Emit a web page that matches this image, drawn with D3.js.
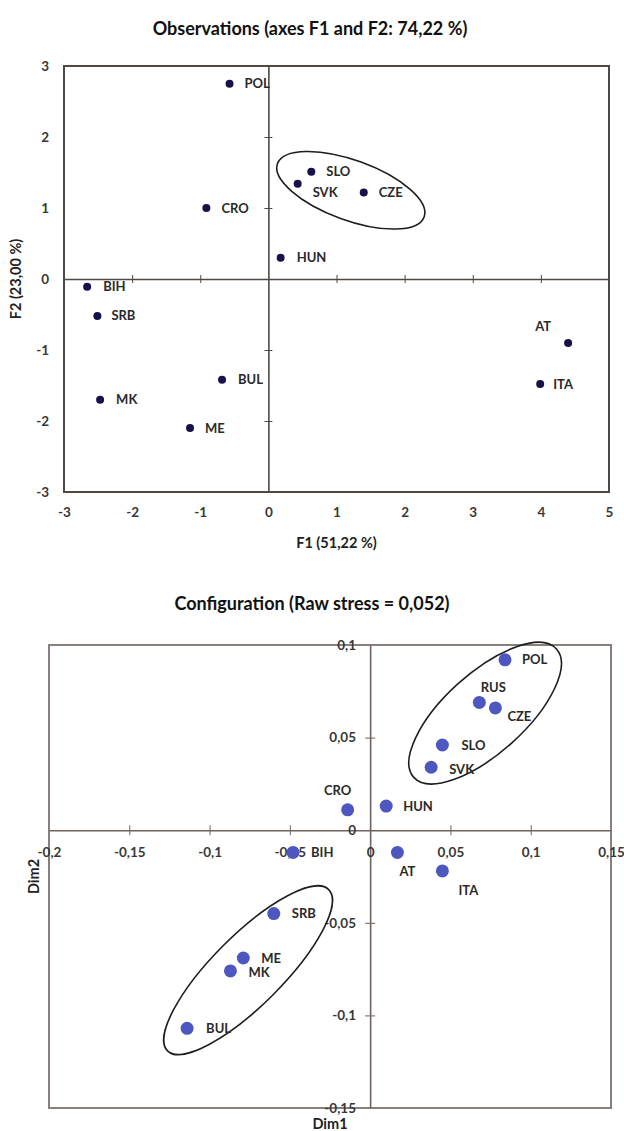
<!DOCTYPE html>
<html>
<head>
<meta charset="utf-8">
<script src="https://cdn.jsdelivr.net/npm/d3@7/dist/d3.min.js"></script>
<style>
  html, body { margin: 0; padding: 0; background: #ffffff; }
  svg { display: block; }
  text { font-family: Lato, "Open Sans", "DejaVu Sans", sans-serif; }
</style>
</head>
<body>
<svg id="chart" width="624" height="1131"></svg>
<script>
// ---------- DATA ----------
// PCA observations (F1, F2)
const obsNames = ["POL", "CRO", "SLO", "SVK", "CZE", "HUN", "BIH", "SRB", "MK", "ME", "BUL", "AT", "ITA"];
const obsF1 = [-0.57, -0.91, 0.63, 0.43, 1.40, 0.18, -2.66, -2.51, -2.47, -1.15, -0.68, 4.40, 3.99];
const obsF2 = [2.75, 1.00, 1.51, 1.34, 1.22, 0.30, -0.11, -0.52, -1.70, -2.10, -1.42, -0.90, -1.48];
const obsXTicks = [-3, -2, -1, 0, 1, 2, 3, 4, 5];
const obsYTicks = [-3, -2, -1, 0, 1, 2, 3];

// MDS configuration (Dim1, Dim2)
const cfgNames = ["POL", "RUS", "CZE", "SLO", "SVK", "CRO", "HUN", "BIH", "AT", "ITA", "SRB", "ME", "MK", "BUL"];
const cfgDim1 = [0.084, 0.068, 0.078, 0.045, 0.038, -0.014, 0.010, -0.048, 0.017, 0.045, -0.060, -0.079, -0.087, -0.114];
const cfgDim2 = [0.092, 0.069, 0.066, 0.046, 0.034, 0.011, 0.013, -0.012, -0.012, -0.022, -0.045, -0.069, -0.076, -0.107];
const cfgXTicks = [-0.2, -0.15, -0.1, -0.05, 0, 0.05, 0.1, 0.15];
const cfgYTicks = [-0.15, -0.1, -0.05, 0, 0.05, 0.1];

// ---------- LAYOUT / STYLE ----------
const svg = d3.select("#chart");
const fmt = v => String(+v.toFixed(2)).replace(".", ",");

// label placement (pixel offsets from the marker)
const obsLabelPos = {
  POL:[15,0,"start"], CRO:[15,0,"start"], SLO:[15,0,"start"], SVK:[15,9,"start"],
  CZE:[15,0,"start"], HUN:[16,0,"start"], BIH:[16,0,"start"], SRB:[14,0,"start"],
  MK:[16,0,"start"], ME:[15,0,"start"], BUL:[16,0,"start"], AT:[-25,-16,"middle"],
  ITA:[13,0,"start"]
};
const cfgLabelPos = {
  POL:[17,0,"start"], RUS:[14,-15,"middle"], CZE:[12,8,"start"], SLO:[19,0,"start"],
  SVK:[18,2,"start"], CRO:[-10,-19,"middle"], HUN:[17,0,"start"], BIH:[18,0,"start"],
  AT:[10,19,"middle"], ITA:[26,20,"middle"], SRB:[18,0,"start"], ME:[18,0,"start"],
  MK:[18,1,"start"], BUL:[19,0,"start"]
};

function drawPanel(o) {
  const g = svg.append("g");
  const x = d3.scaleLinear().domain(o.xDomain).range([o.left, o.right]);
  const y = d3.scaleLinear().domain(o.yDomain).range([o.bottom, o.top]);

  // title
  g.append("text").attr("x", o.titleX).attr("y", o.titleY)
    .attr("text-anchor", "middle").attr("font-size", o.titleSize).attr("font-weight", 700)
    .attr("fill", "#111").text(o.title);

  // frame
  g.append("rect").attr("x", o.left).attr("y", o.top)
    .attr("width", o.right - o.left).attr("height", o.bottom - o.top)
    .attr("fill", "none").attr("stroke", o.frameColor).attr("stroke-width", o.frameWidth);

  // zero axes with crossing ticks
  const tk = o.tick;
  const xAx = g.append("g").attr("transform", `translate(0,${y(0)})`)
    .call(d3.axisBottom(x).tickValues(o.xTicks).tickSize(0).tickFormat(""));
  xAx.select(".domain").attr("stroke", o.axisColor).attr("stroke-width", o.axisWidth);
  xAx.selectAll(".tick line").attr("y1", -tk).attr("y2", tk).attr("stroke", o.axisColor).attr("stroke-width", 1);
  xAx.selectAll(".tick").filter(d => d === o.xDomain[0] || d === o.xDomain[1] || d === 0).select("line").remove();

  const yAx = g.append("g").attr("transform", `translate(${x(0)},0)`)
    .call(d3.axisLeft(y).tickValues(o.yTicks).tickSize(0).tickFormat(""));
  yAx.select(".domain").attr("stroke", o.axisColor).attr("stroke-width", o.axisWidth);
  yAx.selectAll(".tick line").attr("x1", -tk).attr("x2", tk).attr("stroke", o.axisColor).attr("stroke-width", 1);
  yAx.selectAll(".tick").filter(d => d === o.yDomain[0] || d === o.yDomain[1] || d === 0).select("line").remove();

  // tick labels
  const xl = g.append("g").attr("transform", `translate(0,${o.xLabelY})`)
    .call(d3.axisBottom(x).tickValues(o.xTicks).tickSize(0).tickPadding(0).tickFormat(fmt));
  xl.select(".domain").remove();
  xl.selectAll("text").attr("font-size", o.tickSize).attr("font-weight", 700).attr("fill", "#383838")
    .attr("font-family", "Lato, 'Open Sans', sans-serif").attr("dy", "0.35em").attr("y", 0);

  const yl = g.append("g").attr("transform", `translate(${o.yLabelX},0)`)
    .call(d3.axisLeft(y).tickValues(o.yTicks).tickSize(0).tickPadding(0).tickFormat(fmt));
  yl.select(".domain").remove();
  yl.selectAll("text").attr("font-size", o.tickSize).attr("font-weight", 700).attr("fill", "#383838")
    .attr("font-family", "Lato, 'Open Sans', sans-serif");

  // axis titles
  g.append("text").attr("x", (o.left + o.right) / 2).attr("y", o.xTitleY)
    .attr("text-anchor", "middle").attr("font-size", o.axisTitleSize).attr("font-weight", 700)
    .attr("fill", "#222").text(o.xTitle);
  g.append("text").attr("transform", `translate(${o.yTitleX},${(o.top + o.bottom) / 2}) rotate(-90)`)
    .attr("text-anchor", "middle").attr("font-size", o.axisTitleSize).attr("font-weight", 700)
    .attr("fill", "#222").text(o.yTitle);

  // ellipses
  o.ellipses.forEach(e => {
    g.append("ellipse")
      .attr("transform", `translate(${x(e.cx)},${y(e.cy)}) rotate(${e.rot})`)
      .attr("rx", e.rx).attr("ry", e.ry)
      .attr("fill", "none").attr("stroke", "#1e1e1e").attr("stroke-width", 1.6);
  });

  // points
  const pts = o.names.map((n, i) => ({ n, vx: o.xs[i], vy: o.ys[i] }));
  g.append("g").selectAll("circle").data(pts).join("circle")
    .attr("cx", d => x(d.vx)).attr("cy", d => y(d.vy))
    .attr("r", o.r).attr("fill", o.pointColor);

  // labels
  g.append("g").selectAll("text").data(pts).join("text")
    .attr("x", d => x(d.vx) + o.labelPos[d.n][0])
    .attr("y", d => y(d.vy) + o.labelPos[d.n][1])
    .attr("text-anchor", d => o.labelPos[d.n][2])
    .attr("dy", "0.35em").attr("font-size", o.labelSize).attr("font-weight", 700)
    .attr("fill", "#2a2a2a").text(d => d.n);
}

drawPanel({
  title: "Observations (axes F1 and F2: 74,22 %)", titleX: 310, titleY: 35, titleSize: 18,
  xDomain: [-3, 5], yDomain: [-3, 3], left: 64, right: 609, top: 66, bottom: 492,
  xTicks: obsXTicks, yTicks: obsYTicks, tick: 4,
  xLabelY: 512, yLabelX: 49, tickSize: 13.5,
  xTitle: "F1 (51,22 %)", yTitle: "F2 (23,00 %)", xTitleY: 548, yTitleX: 21, axisTitleSize: 14.5,
  frameColor: "#4f4843", frameWidth: 2, axisColor: "#4f4843", axisWidth: 1.6,
  names: obsNames, xs: obsF1, ys: obsF2, r: 4, pointColor: "#17124a",
  labelPos: obsLabelPos, labelSize: 13,
  ellipses: [{ cx: 1.21, cy: 1.25, rx: 78, ry: 30, rot: 20 }]
});

drawPanel({
  title: "Configuration (Raw stress = 0,052)", titleX: 312, titleY: 610, titleSize: 18,
  xDomain: [-0.2, 0.15], yDomain: [-0.15, 0.1], left: 49, right: 611, top: 645, bottom: 1108,
  xTicks: cfgXTicks, yTicks: cfgYTicks, tick: 5,
  xLabelY: 852, yLabelX: 356, tickSize: 13.5,
  xTitle: "Dim1", yTitle: "Dim2", xTitleY: 1129, yTitleX: 39, axisTitleSize: 14.5,
  frameColor: "#8a807b", frameWidth: 2, axisColor: "#6e6560", axisWidth: 1.6,
  names: cfgNames, xs: cfgDim1, ys: cfgDim2, r: 6.5, pointColor: "#4d57bf",
  labelPos: cfgLabelPos, labelSize: 13,
  ellipses: [
    { cx: 0.0716, cy: 0.0632, rx: 96, ry: 40, rot: -42 },
    { cx: -0.076, cy: -0.0756, rx: 114, ry: 35, rot: -45 }
  ]
});
</script>
</body>
</html>
